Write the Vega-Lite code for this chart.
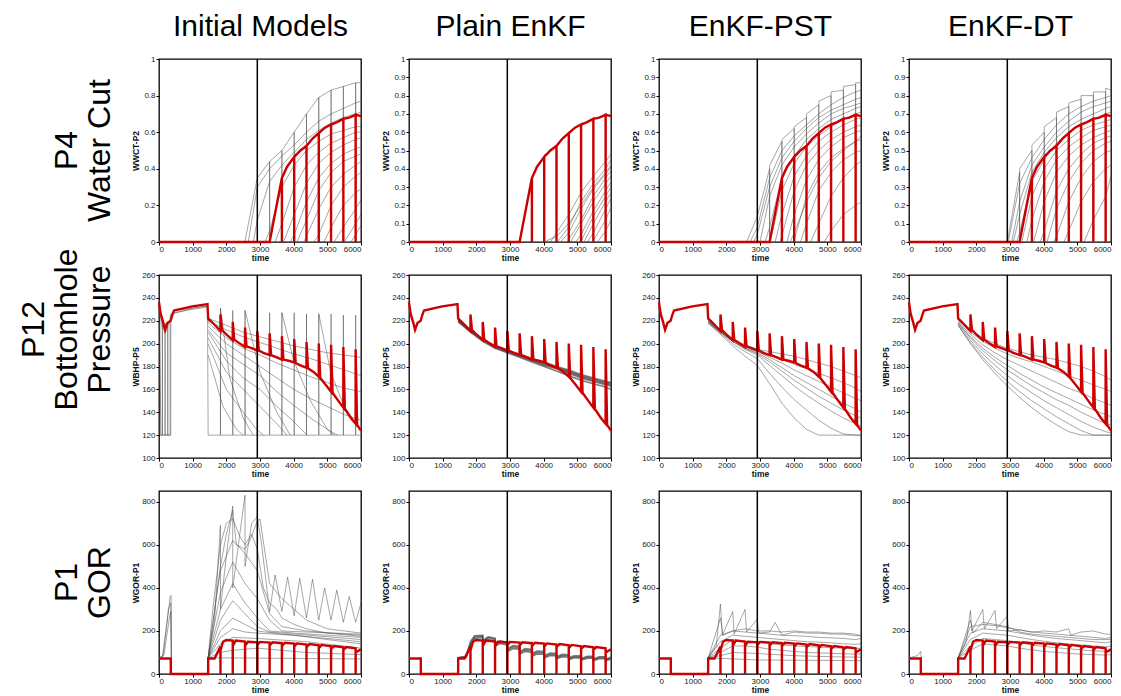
{
"$schema":"https://vega.github.io/schema/vega-lite/v6.json",
"padding":{"left":17,"top":10,"right":0,"bottom":0},
"config":{"font":"Liberation Sans","view":{"stroke":"#000","strokeWidth":1.3},
"axis":{"grid":false,"domain":false,"labelOverlap":false,"labelFontSize":8,"labelColor":"#222","tickColor":"#000","tickSize":3,"labelPadding":1,"titleFontSize":8.5,"titleFontWeight":"bold","titleColor":"#111"},
"axisY":{"minExtent":16,"maxExtent":16,"titlePadding":3},
"axisX":{"titlePadding":0,"labelPadding":0},
"title":{"fontSize":32,"fontWeight":"normal","color":"#000"}},
"datasets":{
"split":[{"t":2920}],
"truth":[
{"r":1,"t":0,"v":0},{"r":1,"t":3285,"v":0},{"r":1,"t":3650,"v":0.35},{"r":1,"t":3651,"v":0},{"r":1,"t":3652,"v":0.35},{"r":1,"t":3800,"v":0.41},{"r":1,"t":4015,"v":0.465},{"r":1,"t":4016,"v":0},{"r":1,"t":4017,"v":0.465},{"r":1,"t":4200,"v":0.5},{"r":1,"t":4380,"v":0.525},{"r":1,"t":4381,"v":0},{"r":1,"t":4382,"v":0.525},{"r":1,"t":4560,"v":0.565},{"r":1,"t":4745,"v":0.595},{"r":1,"t":4746,"v":0},{"r":1,"t":4747,"v":0.595},{"r":1,"t":4930,"v":0.625},{"r":1,"t":5110,"v":0.642},{"r":1,"t":5111,"v":0},{"r":1,"t":5112,"v":0.642},{"r":1,"t":5290,"v":0.655},{"r":1,"t":5475,"v":0.673},{"r":1,"t":5476,"v":0},{"r":1,"t":5477,"v":0.673},{"r":1,"t":5650,"v":0.68},{"r":1,"t":5840,"v":0.695},{"r":1,"t":5841,"v":0},{"r":1,"t":5842,"v":0.695},{"r":1,"t":6000,"v":0.688},
{"r":2,"t":0,"v":236},{"r":2,"t":50,"v":226},{"r":2,"t":120,"v":219},{"r":2,"t":180,"v":212},{"r":2,"t":250,"v":218},{"r":2,"t":345,"v":220},{"r":2,"t":395,"v":225},{"r":2,"t":445,"v":229},{"r":2,"t":990,"v":232.6},{"r":2,"t":1440,"v":234.6},{"r":2,"t":1460,"v":222},{"r":2,"t":1600,"v":218},{"r":2,"t":1825,"v":211},{"r":2,"t":1826,"v":225.5},{"r":2,"t":1870,"v":212},{"r":2,"t":2000,"v":208},{"r":2,"t":2190,"v":203},{"r":2,"t":2191,"v":219},{"r":2,"t":2235,"v":203.5},{"r":2,"t":2400,"v":200},{"r":2,"t":2555,"v":197},{"r":2,"t":2556,"v":214},{"r":2,"t":2600,"v":197.5},{"r":2,"t":2750,"v":196},{"r":2,"t":2920,"v":194},{"r":2,"t":2921,"v":211},{"r":2,"t":2965,"v":194},{"r":2,"t":3100,"v":192},{"r":2,"t":3285,"v":190},{"r":2,"t":3286,"v":209},{"r":2,"t":3330,"v":190},{"r":2,"t":3500,"v":188},{"r":2,"t":3650,"v":186},{"r":2,"t":3651,"v":206.5},{"r":2,"t":3695,"v":186},{"r":2,"t":3850,"v":185},{"r":2,"t":4015,"v":183.5},{"r":2,"t":4016,"v":204},{"r":2,"t":4060,"v":183},{"r":2,"t":4200,"v":181},{"r":2,"t":4380,"v":179},{"r":2,"t":4381,"v":201.5},{"r":2,"t":4425,"v":178.5},{"r":2,"t":4600,"v":175},{"r":2,"t":4745,"v":171},{"r":2,"t":4746,"v":200},{"r":2,"t":4790,"v":170},{"r":2,"t":4950,"v":164},{"r":2,"t":5110,"v":158},{"r":2,"t":5111,"v":199},{"r":2,"t":5155,"v":157},{"r":2,"t":5300,"v":151},{"r":2,"t":5475,"v":144},{"r":2,"t":5476,"v":197},{"r":2,"t":5520,"v":143},{"r":2,"t":5700,"v":135},{"r":2,"t":5840,"v":130},{"r":2,"t":5841,"v":195},{"r":2,"t":5885,"v":129},{"r":2,"t":6000,"v":124},
{"r":3,"t":0,"v":72},{"r":3,"t":350,"v":72},{"r":3,"t":351,"v":0},{"r":3,"t":1460,"v":0},{"r":3,"t":1461,"v":72},{"r":3,"t":1650,"v":72},{"r":3,"t":1825,"v":128},{"r":3,"t":1826,"v":0},{"r":3,"t":1827,"v":110},{"r":3,"t":1900,"v":150},{"r":3,"t":2000,"v":158},{"r":3,"t":2190,"v":155},{"r":3,"t":2191,"v":0},{"r":3,"t":2192,"v":130},{"r":3,"t":2280,"v":155},{"r":3,"t":2555,"v":151},{"r":3,"t":2556,"v":0},{"r":3,"t":2557,"v":130},{"r":3,"t":2640,"v":150},{"r":3,"t":2920,"v":147},{"r":3,"t":2921,"v":0},{"r":3,"t":2922,"v":135},{"r":3,"t":3000,"v":149},{"r":3,"t":3285,"v":146},{"r":3,"t":3286,"v":0},{"r":3,"t":3287,"v":132},{"r":3,"t":3370,"v":147},{"r":3,"t":3650,"v":143},{"r":3,"t":3651,"v":0},{"r":3,"t":3652,"v":130},{"r":3,"t":3740,"v":145},{"r":3,"t":4015,"v":141},{"r":3,"t":4016,"v":0},{"r":3,"t":4017,"v":128},{"r":3,"t":4100,"v":142},{"r":3,"t":4380,"v":137},{"r":3,"t":4381,"v":0},{"r":3,"t":4382,"v":125},{"r":3,"t":4470,"v":139},{"r":3,"t":4745,"v":133},{"r":3,"t":4746,"v":0},{"r":3,"t":4747,"v":120},{"r":3,"t":4830,"v":135},{"r":3,"t":5110,"v":129},{"r":3,"t":5111,"v":0},{"r":3,"t":5112,"v":117},{"r":3,"t":5200,"v":130},{"r":3,"t":5475,"v":124},{"r":3,"t":5476,"v":0},{"r":3,"t":5477,"v":112},{"r":3,"t":5560,"v":125},{"r":3,"t":5840,"v":119},{"r":3,"t":5841,"v":0},{"r":3,"t":5842,"v":100},{"r":3,"t":6000,"v":115}
],
"ens":[
{"p":"1a","s":1,"t":2550,"v":0},{"p":"1a","s":1,"t":2920,"v":0.35},{"p":"1a","s":1,"t":3285,"v":0.44},{"p":"1a","s":1,"t":3286,"v":0},{"p":"1a","s":1,"t":3287,"v":0.44},{"p":"1a","s":1,"t":3650,"v":0.5},{"p":"1a","s":1,"t":3651,"v":0},{"p":"1a","s":1,"t":3652,"v":0.5},{"p":"1a","s":1,"t":4015,"v":0.6},{"p":"1a","s":1,"t":4016,"v":0},{"p":"1a","s":1,"t":4017,"v":0.6},{"p":"1a","s":1,"t":4380,"v":0.7},{"p":"1a","s":1,"t":4381,"v":0},{"p":"1a","s":1,"t":4382,"v":0.7},{"p":"1a","s":1,"t":4745,"v":0.79},{"p":"1a","s":1,"t":4746,"v":0},{"p":"1a","s":1,"t":4747,"v":0.79},{"p":"1a","s":1,"t":5110,"v":0.83},{"p":"1a","s":1,"t":5111,"v":0},{"p":"1a","s":1,"t":5112,"v":0.83},{"p":"1a","s":1,"t":5475,"v":0.85},{"p":"1a","s":1,"t":5476,"v":0},{"p":"1a","s":1,"t":5477,"v":0.85},{"p":"1a","s":1,"t":5840,"v":0.87},{"p":"1a","s":1,"t":5841,"v":0},{"p":"1a","s":1,"t":5842,"v":0.87},{"p":"1a","s":1,"t":6000,"v":0.87},
{"p":"1a","s":2,"t":2650,"v":0},{"p":"1a","s":2,"t":2920,"v":0.3},{"p":"1a","s":2,"t":3285,"v":0.4},{"p":"1a","s":2,"t":3650,"v":0.47},{"p":"1a","s":2,"t":4015,"v":0.53},{"p":"1a","s":2,"t":4380,"v":0.6},{"p":"1a","s":2,"t":4745,"v":0.66},{"p":"1a","s":2,"t":5110,"v":0.7},{"p":"1a","s":2,"t":5475,"v":0.73},{"p":"1a","s":2,"t":5840,"v":0.76},{"p":"1a","s":2,"t":6000,"v":0.77},
{"p":"1a","s":3,"t":2800,"v":0},{"p":"1a","s":3,"t":2920,"v":0.12},{"p":"1a","s":3,"t":3285,"v":0.33},{"p":"1a","s":3,"t":3650,"v":0.42},{"p":"1a","s":3,"t":4015,"v":0.49},{"p":"1a","s":3,"t":4380,"v":0.56},{"p":"1a","s":3,"t":4745,"v":0.61},{"p":"1a","s":3,"t":5110,"v":0.65},{"p":"1a","s":3,"t":5475,"v":0.68},{"p":"1a","s":3,"t":5840,"v":0.7},{"p":"1a","s":3,"t":6000,"v":0.71},
{"p":"1a","s":4,"t":3150,"v":0},{"p":"1a","s":4,"t":3285,"v":0.06},{"p":"1a","s":4,"t":3650,"v":0.3},{"p":"1a","s":4,"t":4015,"v":0.42},{"p":"1a","s":4,"t":4380,"v":0.5},{"p":"1a","s":4,"t":4745,"v":0.55},{"p":"1a","s":4,"t":5110,"v":0.59},{"p":"1a","s":4,"t":5475,"v":0.61},{"p":"1a","s":4,"t":5840,"v":0.63},{"p":"1a","s":4,"t":6000,"v":0.63},
{"p":"1a","s":5,"t":3450,"v":0},{"p":"1a","s":5,"t":3650,"v":0.1},{"p":"1a","s":5,"t":4015,"v":0.3},{"p":"1a","s":5,"t":4380,"v":0.42},{"p":"1a","s":5,"t":4745,"v":0.49},{"p":"1a","s":5,"t":5110,"v":0.54},{"p":"1a","s":5,"t":5475,"v":0.57},{"p":"1a","s":5,"t":5840,"v":0.6},{"p":"1a","s":5,"t":6000,"v":0.6},
{"p":"1a","s":6,"t":3700,"v":0},{"p":"1a","s":6,"t":4015,"v":0.15},{"p":"1a","s":6,"t":4380,"v":0.32},{"p":"1a","s":6,"t":4745,"v":0.43},{"p":"1a","s":6,"t":5110,"v":0.49},{"p":"1a","s":6,"t":5475,"v":0.53},{"p":"1a","s":6,"t":5840,"v":0.56},{"p":"1a","s":6,"t":6000,"v":0.57},
{"p":"1a","s":7,"t":3900,"v":0},{"p":"1a","s":7,"t":4015,"v":0.04},{"p":"1a","s":7,"t":4380,"v":0.22},{"p":"1a","s":7,"t":4745,"v":0.35},{"p":"1a","s":7,"t":5110,"v":0.43},{"p":"1a","s":7,"t":5475,"v":0.48},{"p":"1a","s":7,"t":5840,"v":0.51},{"p":"1a","s":7,"t":6000,"v":0.52},
{"p":"1a","s":8,"t":4100,"v":0},{"p":"1a","s":8,"t":4380,"v":0.12},{"p":"1a","s":8,"t":4745,"v":0.28},{"p":"1a","s":8,"t":5110,"v":0.38},{"p":"1a","s":8,"t":5475,"v":0.44},{"p":"1a","s":8,"t":5840,"v":0.47},{"p":"1a","s":8,"t":6000,"v":0.48},
{"p":"1a","s":9,"t":4300,"v":0},{"p":"1a","s":9,"t":4745,"v":0.18},{"p":"1a","s":9,"t":5110,"v":0.3},{"p":"1a","s":9,"t":5475,"v":0.37},{"p":"1a","s":9,"t":5840,"v":0.42},{"p":"1a","s":9,"t":6000,"v":0.44},
{"p":"1a","s":10,"t":4600,"v":0},{"p":"1a","s":10,"t":4745,"v":0.04},{"p":"1a","s":10,"t":5110,"v":0.2},{"p":"1a","s":10,"t":5475,"v":0.3},{"p":"1a","s":10,"t":5840,"v":0.36},{"p":"1a","s":10,"t":6000,"v":0.38},
{"p":"1a","s":11,"t":4900,"v":0},{"p":"1a","s":11,"t":5110,"v":0.08},{"p":"1a","s":11,"t":5475,"v":0.2},{"p":"1a","s":11,"t":5840,"v":0.27},{"p":"1a","s":11,"t":6000,"v":0.29},
{"p":"1a","s":12,"t":5200,"v":0},{"p":"1a","s":12,"t":5475,"v":0.08},{"p":"1a","s":12,"t":5840,"v":0.18},{"p":"1a","s":12,"t":6000,"v":0.23},
{"p":"1a","s":13,"t":5500,"v":0},{"p":"1a","s":13,"t":5840,"v":0.1},{"p":"1a","s":13,"t":6000,"v":0.15},
{"p":"1a","s":14,"t":5700,"v":0},{"p":"1a","s":14,"t":5840,"v":0.04},{"p":"1a","s":14,"t":6000,"v":0.09},
{"p":"1b","s":1,"t":4200,"v":0},{"p":"1b","s":1,"t":4745,"v":0.15},{"p":"1b","s":1,"t":5110,"v":0.27},{"p":"1b","s":1,"t":5475,"v":0.36},{"p":"1b","s":1,"t":5840,"v":0.44},{"p":"1b","s":1,"t":6000,"v":0.48},
{"p":"1b","s":2,"t":4400,"v":0},{"p":"1b","s":2,"t":4745,"v":0.08},{"p":"1b","s":2,"t":5110,"v":0.22},{"p":"1b","s":2,"t":5475,"v":0.32},{"p":"1b","s":2,"t":5840,"v":0.4},{"p":"1b","s":2,"t":6000,"v":0.45},
{"p":"1b","s":3,"t":4500,"v":0},{"p":"1b","s":3,"t":4745,"v":0.05},{"p":"1b","s":3,"t":5110,"v":0.18},{"p":"1b","s":3,"t":5475,"v":0.29},{"p":"1b","s":3,"t":5840,"v":0.37},{"p":"1b","s":3,"t":6000,"v":0.41},
{"p":"1b","s":4,"t":4700,"v":0},{"p":"1b","s":4,"t":5110,"v":0.12},{"p":"1b","s":4,"t":5475,"v":0.25},{"p":"1b","s":4,"t":5840,"v":0.35},{"p":"1b","s":4,"t":6000,"v":0.39},
{"p":"1b","s":5,"t":4800,"v":0},{"p":"1b","s":5,"t":5110,"v":0.1},{"p":"1b","s":5,"t":5475,"v":0.22},{"p":"1b","s":5,"t":5840,"v":0.32},{"p":"1b","s":5,"t":6000,"v":0.36},
{"p":"1b","s":6,"t":4950,"v":0},{"p":"1b","s":6,"t":5110,"v":0.04},{"p":"1b","s":6,"t":5475,"v":0.17},{"p":"1b","s":6,"t":5840,"v":0.28},{"p":"1b","s":6,"t":6000,"v":0.33},
{"p":"1b","s":7,"t":5100,"v":0},{"p":"1b","s":7,"t":5475,"v":0.14},{"p":"1b","s":7,"t":5840,"v":0.25},{"p":"1b","s":7,"t":6000,"v":0.3},
{"p":"1b","s":8,"t":5200,"v":0},{"p":"1b","s":8,"t":5475,"v":0.1},{"p":"1b","s":8,"t":5840,"v":0.22},{"p":"1b","s":8,"t":6000,"v":0.27},
{"p":"1b","s":9,"t":5300,"v":0},{"p":"1b","s":9,"t":5475,"v":0.05},{"p":"1b","s":9,"t":5840,"v":0.18},{"p":"1b","s":9,"t":6000,"v":0.24},
{"p":"1b","s":10,"t":5450,"v":0},{"p":"1b","s":10,"t":5840,"v":0.12},{"p":"1b","s":10,"t":6000,"v":0.19},
{"p":"1b","s":11,"t":5600,"v":0},{"p":"1b","s":11,"t":5840,"v":0.06},{"p":"1b","s":11,"t":6000,"v":0.12},
{"p":"1b","s":12,"t":4000,"v":0},{"p":"1b","s":12,"t":4380,"v":0.03},{"p":"1b","s":12,"t":4745,"v":0.1},{"p":"1b","s":12,"t":5110,"v":0.2},{"p":"1b","s":12,"t":5475,"v":0.3},{"p":"1b","s":12,"t":5840,"v":0.38},{"p":"1b","s":12,"t":6000,"v":0.42},
{"p":"1c","s":1,"t":2600,"v":0},{"p":"1c","s":1,"t":2920,"v":0.14},{"p":"1c","s":1,"t":3285,"v":0.4},{"p":"1c","s":1,"t":3286,"v":0},{"p":"1c","s":1,"t":3287,"v":0.42},{"p":"1c","s":1,"t":3650,"v":0.55},{"p":"1c","s":1,"t":3651,"v":0},{"p":"1c","s":1,"t":3652,"v":0.56},{"p":"1c","s":1,"t":4015,"v":0.62},{"p":"1c","s":1,"t":4016,"v":0},{"p":"1c","s":1,"t":4017,"v":0.63},{"p":"1c","s":1,"t":4380,"v":0.68},{"p":"1c","s":1,"t":4381,"v":0},{"p":"1c","s":1,"t":4382,"v":0.7},{"p":"1c","s":1,"t":4745,"v":0.75},{"p":"1c","s":1,"t":4746,"v":0},{"p":"1c","s":1,"t":4747,"v":0.77},{"p":"1c","s":1,"t":5110,"v":0.8},{"p":"1c","s":1,"t":5111,"v":0},{"p":"1c","s":1,"t":5112,"v":0.82},{"p":"1c","s":1,"t":5475,"v":0.83},{"p":"1c","s":1,"t":5476,"v":0},{"p":"1c","s":1,"t":5477,"v":0.85},{"p":"1c","s":1,"t":5840,"v":0.86},{"p":"1c","s":1,"t":5841,"v":0},{"p":"1c","s":1,"t":5842,"v":0.87},{"p":"1c","s":1,"t":6000,"v":0.87},
{"p":"1c","s":2,"t":2700,"v":0},{"p":"1c","s":2,"t":2920,"v":0.08},{"p":"1c","s":2,"t":3285,"v":0.35},{"p":"1c","s":2,"t":3650,"v":0.5},{"p":"1c","s":2,"t":4015,"v":0.58},{"p":"1c","s":2,"t":4380,"v":0.64},{"p":"1c","s":2,"t":4745,"v":0.7},{"p":"1c","s":2,"t":5110,"v":0.75},{"p":"1c","s":2,"t":5475,"v":0.79},{"p":"1c","s":2,"t":5840,"v":0.82},{"p":"1c","s":2,"t":6000,"v":0.83},
{"p":"1c","s":3,"t":2800,"v":0},{"p":"1c","s":3,"t":2920,"v":0.04},{"p":"1c","s":3,"t":3285,"v":0.3},{"p":"1c","s":3,"t":3650,"v":0.46},{"p":"1c","s":3,"t":4015,"v":0.55},{"p":"1c","s":3,"t":4380,"v":0.62},{"p":"1c","s":3,"t":4745,"v":0.68},{"p":"1c","s":3,"t":5110,"v":0.72},{"p":"1c","s":3,"t":5475,"v":0.75},{"p":"1c","s":3,"t":5840,"v":0.78},{"p":"1c","s":3,"t":6000,"v":0.79},
{"p":"1c","s":4,"t":3000,"v":0},{"p":"1c","s":4,"t":3285,"v":0.25},{"p":"1c","s":4,"t":3650,"v":0.42},{"p":"1c","s":4,"t":4015,"v":0.52},{"p":"1c","s":4,"t":4380,"v":0.59},{"p":"1c","s":4,"t":4745,"v":0.65},{"p":"1c","s":4,"t":5110,"v":0.7},{"p":"1c","s":4,"t":5475,"v":0.73},{"p":"1c","s":4,"t":5840,"v":0.75},{"p":"1c","s":4,"t":6000,"v":0.76},
{"p":"1c","s":5,"t":3150,"v":0},{"p":"1c","s":5,"t":3285,"v":0.08},{"p":"1c","s":5,"t":3650,"v":0.35},{"p":"1c","s":5,"t":4015,"v":0.47},{"p":"1c","s":5,"t":4380,"v":0.56},{"p":"1c","s":5,"t":4745,"v":0.62},{"p":"1c","s":5,"t":5110,"v":0.67},{"p":"1c","s":5,"t":5475,"v":0.7},{"p":"1c","s":5,"t":5840,"v":0.73},{"p":"1c","s":5,"t":6000,"v":0.74},
{"p":"1c","s":6,"t":3300,"v":0},{"p":"1c","s":6,"t":3650,"v":0.28},{"p":"1c","s":6,"t":4015,"v":0.43},{"p":"1c","s":6,"t":4380,"v":0.52},{"p":"1c","s":6,"t":4745,"v":0.58},{"p":"1c","s":6,"t":5110,"v":0.63},{"p":"1c","s":6,"t":5475,"v":0.67},{"p":"1c","s":6,"t":5840,"v":0.7},{"p":"1c","s":6,"t":6000,"v":0.71},
{"p":"1c","s":7,"t":3450,"v":0},{"p":"1c","s":7,"t":3650,"v":0.15},{"p":"1c","s":7,"t":4015,"v":0.36},{"p":"1c","s":7,"t":4380,"v":0.47},{"p":"1c","s":7,"t":4745,"v":0.55},{"p":"1c","s":7,"t":5110,"v":0.6},{"p":"1c","s":7,"t":5475,"v":0.64},{"p":"1c","s":7,"t":5840,"v":0.67},{"p":"1c","s":7,"t":6000,"v":0.68},
{"p":"1c","s":8,"t":3600,"v":0},{"p":"1c","s":8,"t":4015,"v":0.28},{"p":"1c","s":8,"t":4380,"v":0.42},{"p":"1c","s":8,"t":4745,"v":0.5},{"p":"1c","s":8,"t":5110,"v":0.56},{"p":"1c","s":8,"t":5475,"v":0.6},{"p":"1c","s":8,"t":5840,"v":0.63},{"p":"1c","s":8,"t":6000,"v":0.64},
{"p":"1c","s":9,"t":3800,"v":0},{"p":"1c","s":9,"t":4015,"v":0.15},{"p":"1c","s":9,"t":4380,"v":0.34},{"p":"1c","s":9,"t":4745,"v":0.45},{"p":"1c","s":9,"t":5110,"v":0.52},{"p":"1c","s":9,"t":5475,"v":0.57},{"p":"1c","s":9,"t":5840,"v":0.6},{"p":"1c","s":9,"t":6000,"v":0.61},
{"p":"1c","s":10,"t":4000,"v":0},{"p":"1c","s":10,"t":4380,"v":0.25},{"p":"1c","s":10,"t":4745,"v":0.38},{"p":"1c","s":10,"t":5110,"v":0.46},{"p":"1c","s":10,"t":5475,"v":0.51},{"p":"1c","s":10,"t":5840,"v":0.55},{"p":"1c","s":10,"t":6000,"v":0.56},
{"p":"1c","s":11,"t":4200,"v":0},{"p":"1c","s":11,"t":4380,"v":0.1},{"p":"1c","s":11,"t":4745,"v":0.28},{"p":"1c","s":11,"t":5110,"v":0.38},{"p":"1c","s":11,"t":5475,"v":0.45},{"p":"1c","s":11,"t":5840,"v":0.49},{"p":"1c","s":11,"t":6000,"v":0.5},
{"p":"1c","s":12,"t":4500,"v":0},{"p":"1c","s":12,"t":4745,"v":0.1},{"p":"1c","s":12,"t":5110,"v":0.25},{"p":"1c","s":12,"t":5475,"v":0.35},{"p":"1c","s":12,"t":5840,"v":0.42},{"p":"1c","s":12,"t":6000,"v":0.44},
{"p":"1c","s":13,"t":4900,"v":0},{"p":"1c","s":13,"t":5110,"v":0.06},{"p":"1c","s":13,"t":5475,"v":0.15},{"p":"1c","s":13,"t":5840,"v":0.2},{"p":"1c","s":13,"t":6000,"v":0.22},
{"p":"1c","s":14,"t":3900,"v":0},{"p":"1c","s":14,"t":4015,"v":0.05},{"p":"1c","s":14,"t":4380,"v":0.22},{"p":"1c","s":14,"t":4745,"v":0.35},{"p":"1c","s":14,"t":5110,"v":0.44},{"p":"1c","s":14,"t":5475,"v":0.5},{"p":"1c","s":14,"t":5840,"v":0.55},{"p":"1c","s":14,"t":6000,"v":0.58},
{"p":"1d","s":1,"t":2920,"v":0},{"p":"1d","s":1,"t":3285,"v":0.38},{"p":"1d","s":1,"t":3286,"v":0},{"p":"1d","s":1,"t":3287,"v":0.4},{"p":"1d","s":1,"t":3650,"v":0.5},{"p":"1d","s":1,"t":3651,"v":0},{"p":"1d","s":1,"t":3652,"v":0.53},{"p":"1d","s":1,"t":4015,"v":0.6},{"p":"1d","s":1,"t":4016,"v":0},{"p":"1d","s":1,"t":4017,"v":0.63},{"p":"1d","s":1,"t":4380,"v":0.68},{"p":"1d","s":1,"t":4381,"v":0},{"p":"1d","s":1,"t":4382,"v":0.71},{"p":"1d","s":1,"t":4745,"v":0.74},{"p":"1d","s":1,"t":4746,"v":0},{"p":"1d","s":1,"t":4747,"v":0.76},{"p":"1d","s":1,"t":5110,"v":0.78},{"p":"1d","s":1,"t":5111,"v":0},{"p":"1d","s":1,"t":5112,"v":0.8},{"p":"1d","s":1,"t":5475,"v":0.8},{"p":"1d","s":1,"t":5476,"v":0},{"p":"1d","s":1,"t":5477,"v":0.82},{"p":"1d","s":1,"t":5840,"v":0.82},{"p":"1d","s":1,"t":5841,"v":0},{"p":"1d","s":1,"t":5842,"v":0.84},{"p":"1d","s":1,"t":6000,"v":0.83},
{"p":"1d","s":2,"t":2950,"v":0},{"p":"1d","s":2,"t":3285,"v":0.32},{"p":"1d","s":2,"t":3650,"v":0.46},{"p":"1d","s":2,"t":4015,"v":0.56},{"p":"1d","s":2,"t":4380,"v":0.64},{"p":"1d","s":2,"t":4745,"v":0.7},{"p":"1d","s":2,"t":5110,"v":0.74},{"p":"1d","s":2,"t":5475,"v":0.77},{"p":"1d","s":2,"t":5840,"v":0.79},{"p":"1d","s":2,"t":6000,"v":0.8},
{"p":"1d","s":3,"t":3050,"v":0},{"p":"1d","s":3,"t":3285,"v":0.22},{"p":"1d","s":3,"t":3650,"v":0.42},{"p":"1d","s":3,"t":4015,"v":0.52},{"p":"1d","s":3,"t":4380,"v":0.6},{"p":"1d","s":3,"t":4745,"v":0.66},{"p":"1d","s":3,"t":5110,"v":0.71},{"p":"1d","s":3,"t":5475,"v":0.74},{"p":"1d","s":3,"t":5840,"v":0.76},{"p":"1d","s":3,"t":6000,"v":0.77},
{"p":"1d","s":4,"t":3100,"v":0},{"p":"1d","s":4,"t":3285,"v":0.15},{"p":"1d","s":4,"t":3650,"v":0.38},{"p":"1d","s":4,"t":4015,"v":0.49},{"p":"1d","s":4,"t":4380,"v":0.57},{"p":"1d","s":4,"t":4745,"v":0.63},{"p":"1d","s":4,"t":5110,"v":0.67},{"p":"1d","s":4,"t":5475,"v":0.7},{"p":"1d","s":4,"t":5840,"v":0.73},{"p":"1d","s":4,"t":6000,"v":0.74},
{"p":"1d","s":5,"t":3200,"v":0},{"p":"1d","s":5,"t":3285,"v":0.05},{"p":"1d","s":5,"t":3650,"v":0.33},{"p":"1d","s":5,"t":4015,"v":0.45},{"p":"1d","s":5,"t":4380,"v":0.54},{"p":"1d","s":5,"t":4745,"v":0.6},{"p":"1d","s":5,"t":5110,"v":0.64},{"p":"1d","s":5,"t":5475,"v":0.67},{"p":"1d","s":5,"t":5840,"v":0.7},{"p":"1d","s":5,"t":6000,"v":0.71},
{"p":"1d","s":6,"t":3350,"v":0},{"p":"1d","s":6,"t":3650,"v":0.25},{"p":"1d","s":6,"t":4015,"v":0.4},{"p":"1d","s":6,"t":4380,"v":0.5},{"p":"1d","s":6,"t":4745,"v":0.56},{"p":"1d","s":6,"t":5110,"v":0.61},{"p":"1d","s":6,"t":5475,"v":0.64},{"p":"1d","s":6,"t":5840,"v":0.66},{"p":"1d","s":6,"t":6000,"v":0.67},
{"p":"1d","s":7,"t":3500,"v":0},{"p":"1d","s":7,"t":3650,"v":0.12},{"p":"1d","s":7,"t":4015,"v":0.33},{"p":"1d","s":7,"t":4380,"v":0.45},{"p":"1d","s":7,"t":4745,"v":0.52},{"p":"1d","s":7,"t":5110,"v":0.57},{"p":"1d","s":7,"t":5475,"v":0.61},{"p":"1d","s":7,"t":5840,"v":0.63},{"p":"1d","s":7,"t":6000,"v":0.64},
{"p":"1d","s":8,"t":3700,"v":0},{"p":"1d","s":8,"t":4015,"v":0.22},{"p":"1d","s":8,"t":4380,"v":0.38},{"p":"1d","s":8,"t":4745,"v":0.47},{"p":"1d","s":8,"t":5110,"v":0.53},{"p":"1d","s":8,"t":5475,"v":0.57},{"p":"1d","s":8,"t":5840,"v":0.6},{"p":"1d","s":8,"t":6000,"v":0.61},
{"p":"1d","s":9,"t":3900,"v":0},{"p":"1d","s":9,"t":4015,"v":0.06},{"p":"1d","s":9,"t":4380,"v":0.28},{"p":"1d","s":9,"t":4745,"v":0.4},{"p":"1d","s":9,"t":5110,"v":0.48},{"p":"1d","s":9,"t":5475,"v":0.54},{"p":"1d","s":9,"t":5840,"v":0.57},{"p":"1d","s":9,"t":6000,"v":0.58},
{"p":"1d","s":10,"t":4100,"v":0},{"p":"1d","s":10,"t":4380,"v":0.18},{"p":"1d","s":10,"t":4745,"v":0.33},{"p":"1d","s":10,"t":5110,"v":0.43},{"p":"1d","s":10,"t":5475,"v":0.5},{"p":"1d","s":10,"t":5840,"v":0.54},{"p":"1d","s":10,"t":6000,"v":0.55},
{"p":"1d","s":11,"t":4300,"v":0},{"p":"1d","s":11,"t":4380,"v":0.03},{"p":"1d","s":11,"t":4745,"v":0.22},{"p":"1d","s":11,"t":5110,"v":0.35},{"p":"1d","s":11,"t":5475,"v":0.44},{"p":"1d","s":11,"t":5840,"v":0.49},{"p":"1d","s":11,"t":6000,"v":0.5},
{"p":"1d","s":12,"t":4600,"v":0},{"p":"1d","s":12,"t":4745,"v":0.06},{"p":"1d","s":12,"t":5110,"v":0.22},{"p":"1d","s":12,"t":5475,"v":0.33},{"p":"1d","s":12,"t":5840,"v":0.4},{"p":"1d","s":12,"t":6000,"v":0.42},
{"p":"1d","s":13,"t":5200,"v":0},{"p":"1d","s":13,"t":5475,"v":0.12},{"p":"1d","s":13,"t":5840,"v":0.25},{"p":"1d","s":13,"t":6000,"v":0.36},
{"p":"2a","s":1,"t":0,"v":234},{"p":"2a","s":1,"t":30,"v":226},{"p":"2a","s":1,"t":31,"v":120},{"p":"2a","s":1,"t":350,"v":120},{"p":"2a","s":1,"t":351,"v":226},{"p":"2a","s":1,"t":450,"v":229},{"p":"2a","s":1,"t":1000,"v":231},{"p":"2a","s":1,"t":1440,"v":233},{"p":"2a","s":1,"t":1460,"v":222},{"p":"2a","s":1,"t":2000,"v":216},{"p":"2a","s":1,"t":2500,"v":210},{"p":"2a","s":1,"t":3000,"v":206},{"p":"2a","s":1,"t":3500,"v":202},{"p":"2a","s":1,"t":4000,"v":198},{"p":"2a","s":1,"t":4500,"v":195},{"p":"2a","s":1,"t":5000,"v":192},{"p":"2a","s":1,"t":5500,"v":190},{"p":"2a","s":1,"t":6000,"v":188},
{"p":"2a","s":2,"t":0,"v":232},{"p":"2a","s":2,"t":60,"v":120},{"p":"2a","s":2,"t":100,"v":120},{"p":"2a","s":2,"t":101,"v":222},{"p":"2a","s":2,"t":102,"v":120},{"p":"2a","s":2,"t":180,"v":120},{"p":"2a","s":2,"t":181,"v":218},{"p":"2a","s":2,"t":182,"v":120},{"p":"2a","s":2,"t":260,"v":120},{"p":"2a","s":2,"t":261,"v":216},{"p":"2a","s":2,"t":262,"v":120},{"p":"2a","s":2,"t":330,"v":120},{"p":"2a","s":2,"t":331,"v":224},{"p":"2a","s":2,"t":450,"v":227},{"p":"2a","s":2,"t":1000,"v":230},{"p":"2a","s":2,"t":1440,"v":232},{"p":"2a","s":2,"t":1460,"v":220},{"p":"2a","s":2,"t":2000,"v":212},{"p":"2a","s":2,"t":2500,"v":206},{"p":"2a","s":2,"t":3000,"v":201},{"p":"2a","s":2,"t":3500,"v":196},{"p":"2a","s":2,"t":4000,"v":191},{"p":"2a","s":2,"t":4500,"v":187},{"p":"2a","s":2,"t":5000,"v":182},{"p":"2a","s":2,"t":5500,"v":177},{"p":"2a","s":2,"t":6000,"v":172},
{"p":"2a","s":3,"t":0,"v":236},{"p":"2a","s":3,"t":100,"v":214},{"p":"2a","s":3,"t":200,"v":210},{"p":"2a","s":3,"t":300,"v":218},{"p":"2a","s":3,"t":400,"v":226},{"p":"2a","s":3,"t":1000,"v":231},{"p":"2a","s":3,"t":1440,"v":233},{"p":"2a","s":3,"t":1460,"v":218},{"p":"2a","s":3,"t":2000,"v":205},{"p":"2a","s":3,"t":2500,"v":196},{"p":"2a","s":3,"t":3000,"v":190},{"p":"2a","s":3,"t":3500,"v":183},{"p":"2a","s":3,"t":4000,"v":177},{"p":"2a","s":3,"t":4500,"v":171},{"p":"2a","s":3,"t":5000,"v":166},{"p":"2a","s":3,"t":5500,"v":161},{"p":"2a","s":3,"t":6000,"v":158},
{"p":"2a","s":4,"t":1460,"v":215},{"p":"2a","s":4,"t":2000,"v":200},{"p":"2a","s":4,"t":2500,"v":190},{"p":"2a","s":4,"t":3000,"v":180},{"p":"2a","s":4,"t":3500,"v":170},{"p":"2a","s":4,"t":4000,"v":160},{"p":"2a","s":4,"t":4500,"v":152},{"p":"2a","s":4,"t":5000,"v":145},{"p":"2a","s":4,"t":5500,"v":138},{"p":"2a","s":4,"t":6000,"v":133},
{"p":"2a","s":5,"t":1460,"v":212},{"p":"2a","s":5,"t":2000,"v":192},{"p":"2a","s":5,"t":2500,"v":182},{"p":"2a","s":5,"t":3000,"v":172},{"p":"2a","s":5,"t":3500,"v":158},{"p":"2a","s":5,"t":4000,"v":146},{"p":"2a","s":5,"t":4500,"v":135},{"p":"2a","s":5,"t":5000,"v":125},{"p":"2a","s":5,"t":5300,"v":120},
{"p":"2a","s":6,"t":1460,"v":210},{"p":"2a","s":6,"t":2000,"v":185},{"p":"2a","s":6,"t":2500,"v":170},{"p":"2a","s":6,"t":3000,"v":160},{"p":"2a","s":6,"t":3500,"v":145},{"p":"2a","s":6,"t":4000,"v":132},{"p":"2a","s":6,"t":4400,"v":120},
{"p":"2a","s":7,"t":1460,"v":205},{"p":"2a","s":7,"t":2000,"v":175},{"p":"2a","s":7,"t":2500,"v":160},{"p":"2a","s":7,"t":3000,"v":145},{"p":"2a","s":7,"t":3500,"v":130},{"p":"2a","s":7,"t":3800,"v":120},
{"p":"2a","s":8,"t":1460,"v":200},{"p":"2a","s":8,"t":2000,"v":160},{"p":"2a","s":8,"t":2500,"v":140},{"p":"2a","s":8,"t":2900,"v":125},{"p":"2a","s":8,"t":3100,"v":120},
{"p":"2a","s":9,"t":1460,"v":190},{"p":"2a","s":9,"t":1900,"v":145},{"p":"2a","s":9,"t":2300,"v":125},{"p":"2a","s":9,"t":2500,"v":120},
{"p":"2a","s":10,"t":1440,"v":233},{"p":"2a","s":10,"t":1460,"v":120},{"p":"2a","s":10,"t":1825,"v":120},{"p":"2a","s":10,"t":1826,"v":231},{"p":"2a","s":10,"t":1827,"v":120},{"p":"2a","s":10,"t":2190,"v":120},{"p":"2a","s":10,"t":2191,"v":229},{"p":"2a","s":10,"t":2192,"v":120},{"p":"2a","s":10,"t":2555,"v":120},{"p":"2a","s":10,"t":2556,"v":229},{"p":"2a","s":10,"t":2557,"v":120},{"p":"2a","s":10,"t":2920,"v":120},{"p":"2a","s":10,"t":2921,"v":228},{"p":"2a","s":10,"t":2922,"v":120},{"p":"2a","s":10,"t":3285,"v":120},{"p":"2a","s":10,"t":3286,"v":227},{"p":"2a","s":10,"t":3287,"v":120},{"p":"2a","s":10,"t":3650,"v":120},{"p":"2a","s":10,"t":3651,"v":227},{"p":"2a","s":10,"t":3652,"v":120},{"p":"2a","s":10,"t":4015,"v":120},{"p":"2a","s":10,"t":4016,"v":227},{"p":"2a","s":10,"t":4017,"v":120},{"p":"2a","s":10,"t":4380,"v":120},{"p":"2a","s":10,"t":4381,"v":226},{"p":"2a","s":10,"t":4382,"v":120},{"p":"2a","s":10,"t":4745,"v":120},{"p":"2a","s":10,"t":4746,"v":226},{"p":"2a","s":10,"t":4747,"v":120},{"p":"2a","s":10,"t":5110,"v":120},{"p":"2a","s":10,"t":5111,"v":226},{"p":"2a","s":10,"t":5112,"v":120},{"p":"2a","s":10,"t":5475,"v":120},{"p":"2a","s":10,"t":5476,"v":225},{"p":"2a","s":10,"t":5477,"v":120},{"p":"2a","s":10,"t":5840,"v":120},{"p":"2a","s":10,"t":5841,"v":225},{"p":"2a","s":10,"t":5842,"v":120},{"p":"2a","s":10,"t":6000,"v":120},
{"p":"2a","s":11,"t":1826,"v":231},{"p":"2a","s":11,"t":2100,"v":170},{"p":"2a","s":11,"t":2500,"v":135},{"p":"2a","s":11,"t":2800,"v":120},
{"p":"2a","s":12,"t":2556,"v":229},{"p":"2a","s":12,"t":3000,"v":175},{"p":"2a","s":12,"t":3500,"v":140},{"p":"2a","s":12,"t":3900,"v":120},
{"p":"2a","s":13,"t":3651,"v":227},{"p":"2a","s":13,"t":4000,"v":185},{"p":"2a","s":13,"t":4500,"v":150},{"p":"2a","s":13,"t":5000,"v":125},{"p":"2a","s":13,"t":5200,"v":120},
{"p":"2a","s":14,"t":4746,"v":226},{"p":"2a","s":14,"t":5100,"v":175},{"p":"2a","s":14,"t":5500,"v":145},{"p":"2a","s":14,"t":6000,"v":125},
{"p":"2b","s":1,"t":1460,"v":221},{"p":"2b","s":1,"t":1825,"v":212},{"p":"2b","s":1,"t":2190,"v":204},{"p":"2b","s":1,"t":2555,"v":198},{"p":"2b","s":1,"t":2920,"v":194},{"p":"2b","s":1,"t":3285,"v":191},{"p":"2b","s":1,"t":3650,"v":187},{"p":"2b","s":1,"t":4015,"v":184},{"p":"2b","s":1,"t":4380,"v":180},{"p":"2b","s":1,"t":4745,"v":177},{"p":"2b","s":1,"t":5110,"v":173},{"p":"2b","s":1,"t":5475,"v":170},{"p":"2b","s":1,"t":5840,"v":167},{"p":"2b","s":1,"t":6000,"v":166},
{"p":"2b","s":2,"t":1460,"v":220},{"p":"2b","s":2,"t":1825,"v":211},{"p":"2b","s":2,"t":2190,"v":203},{"p":"2b","s":2,"t":2555,"v":197},{"p":"2b","s":2,"t":2920,"v":193},{"p":"2b","s":2,"t":3285,"v":189},{"p":"2b","s":2,"t":3650,"v":185},{"p":"2b","s":2,"t":4015,"v":181},{"p":"2b","s":2,"t":4380,"v":178},{"p":"2b","s":2,"t":4745,"v":174},{"p":"2b","s":2,"t":5110,"v":170},{"p":"2b","s":2,"t":5475,"v":167},{"p":"2b","s":2,"t":5840,"v":164},{"p":"2b","s":2,"t":6000,"v":163},
{"p":"2b","s":3,"t":1460,"v":219},{"p":"2b","s":3,"t":1825,"v":210},{"p":"2b","s":3,"t":2190,"v":202},{"p":"2b","s":3,"t":2555,"v":196},{"p":"2b","s":3,"t":2920,"v":192},{"p":"2b","s":3,"t":3285,"v":188},{"p":"2b","s":3,"t":3650,"v":184},{"p":"2b","s":3,"t":4015,"v":180},{"p":"2b","s":3,"t":4380,"v":176},{"p":"2b","s":3,"t":4745,"v":172},{"p":"2b","s":3,"t":5110,"v":168},{"p":"2b","s":3,"t":5475,"v":165},{"p":"2b","s":3,"t":5840,"v":162},{"p":"2b","s":3,"t":6000,"v":160},
{"p":"2b","s":4,"t":1460,"v":220},{"p":"2b","s":4,"t":1825,"v":211},{"p":"2b","s":4,"t":2190,"v":203},{"p":"2b","s":4,"t":2555,"v":197},{"p":"2b","s":4,"t":2920,"v":193},{"p":"2b","s":4,"t":2921,"v":210},{"p":"2b","s":4,"t":2960,"v":193},{"p":"2b","s":4,"t":3285,"v":190},{"p":"2b","s":4,"t":3650,"v":186},{"p":"2b","s":4,"t":4015,"v":182},{"p":"2b","s":4,"t":4380,"v":179},{"p":"2b","s":4,"t":4745,"v":175},{"p":"2b","s":4,"t":5110,"v":171},{"p":"2b","s":4,"t":5475,"v":168},{"p":"2b","s":4,"t":5840,"v":165},{"p":"2b","s":4,"t":6000,"v":164},
{"p":"2b","s":5,"t":1460,"v":221},{"p":"2b","s":5,"t":1825,"v":212},{"p":"2b","s":5,"t":2190,"v":204},{"p":"2b","s":5,"t":2555,"v":198},{"p":"2b","s":5,"t":2920,"v":194},{"p":"2b","s":5,"t":3285,"v":190},{"p":"2b","s":5,"t":3650,"v":186},{"p":"2b","s":5,"t":4015,"v":183},{"p":"2b","s":5,"t":4380,"v":179},{"p":"2b","s":5,"t":4745,"v":176},{"p":"2b","s":5,"t":5110,"v":172},{"p":"2b","s":5,"t":5475,"v":169},{"p":"2b","s":5,"t":5840,"v":166},{"p":"2b","s":5,"t":6000,"v":165},
{"p":"2c","s":1,"t":1460,"v":221},{"p":"2c","s":1,"t":1825,"v":212},{"p":"2c","s":1,"t":2190,"v":204},{"p":"2c","s":1,"t":2555,"v":199},{"p":"2c","s":1,"t":2920,"v":195},{"p":"2c","s":1,"t":3285,"v":193},{"p":"2c","s":1,"t":3650,"v":191},{"p":"2c","s":1,"t":4015,"v":189},{"p":"2c","s":1,"t":4380,"v":186},{"p":"2c","s":1,"t":4745,"v":183},{"p":"2c","s":1,"t":5110,"v":180},{"p":"2c","s":1,"t":5475,"v":176},{"p":"2c","s":1,"t":5840,"v":172},{"p":"2c","s":1,"t":6000,"v":170},
{"p":"2c","s":2,"t":1460,"v":220},{"p":"2c","s":2,"t":1825,"v":211},{"p":"2c","s":2,"t":2190,"v":203},{"p":"2c","s":2,"t":2555,"v":198},{"p":"2c","s":2,"t":2920,"v":194},{"p":"2c","s":2,"t":3285,"v":190},{"p":"2c","s":2,"t":3650,"v":186},{"p":"2c","s":2,"t":4015,"v":182},{"p":"2c","s":2,"t":4380,"v":178},{"p":"2c","s":2,"t":4745,"v":174},{"p":"2c","s":2,"t":5110,"v":170},{"p":"2c","s":2,"t":5475,"v":166},{"p":"2c","s":2,"t":5840,"v":161},{"p":"2c","s":2,"t":6000,"v":158},
{"p":"2c","s":3,"t":1460,"v":220},{"p":"2c","s":3,"t":1825,"v":211},{"p":"2c","s":3,"t":2190,"v":203},{"p":"2c","s":3,"t":2555,"v":197},{"p":"2c","s":3,"t":2920,"v":193},{"p":"2c","s":3,"t":3285,"v":188},{"p":"2c","s":3,"t":3650,"v":183},{"p":"2c","s":3,"t":4015,"v":177},{"p":"2c","s":3,"t":4380,"v":172},{"p":"2c","s":3,"t":4745,"v":167},{"p":"2c","s":3,"t":5110,"v":162},{"p":"2c","s":3,"t":5475,"v":157},{"p":"2c","s":3,"t":5840,"v":152},{"p":"2c","s":3,"t":6000,"v":150},
{"p":"2c","s":4,"t":1460,"v":219},{"p":"2c","s":4,"t":1825,"v":210},{"p":"2c","s":4,"t":2190,"v":202},{"p":"2c","s":4,"t":2555,"v":196},{"p":"2c","s":4,"t":2920,"v":192},{"p":"2c","s":4,"t":3285,"v":186},{"p":"2c","s":4,"t":3650,"v":179},{"p":"2c","s":4,"t":4015,"v":172},{"p":"2c","s":4,"t":4380,"v":166},{"p":"2c","s":4,"t":4745,"v":160},{"p":"2c","s":4,"t":5110,"v":154},{"p":"2c","s":4,"t":5475,"v":148},{"p":"2c","s":4,"t":5840,"v":143},{"p":"2c","s":4,"t":6000,"v":140},
{"p":"2c","s":5,"t":1460,"v":219},{"p":"2c","s":5,"t":1825,"v":210},{"p":"2c","s":5,"t":2190,"v":202},{"p":"2c","s":5,"t":2555,"v":196},{"p":"2c","s":5,"t":2920,"v":191},{"p":"2c","s":5,"t":3285,"v":184},{"p":"2c","s":5,"t":3650,"v":176},{"p":"2c","s":5,"t":4015,"v":168},{"p":"2c","s":5,"t":4380,"v":161},{"p":"2c","s":5,"t":4745,"v":154},{"p":"2c","s":5,"t":5110,"v":148},{"p":"2c","s":5,"t":5475,"v":142},{"p":"2c","s":5,"t":5840,"v":137},{"p":"2c","s":5,"t":6000,"v":135},
{"p":"2c","s":6,"t":1460,"v":219},{"p":"2c","s":6,"t":1825,"v":210},{"p":"2c","s":6,"t":2190,"v":202},{"p":"2c","s":6,"t":2555,"v":195},{"p":"2c","s":6,"t":2920,"v":190},{"p":"2c","s":6,"t":3285,"v":181},{"p":"2c","s":6,"t":3650,"v":172},{"p":"2c","s":6,"t":4015,"v":163},{"p":"2c","s":6,"t":4380,"v":155},{"p":"2c","s":6,"t":4745,"v":148},{"p":"2c","s":6,"t":5110,"v":141},{"p":"2c","s":6,"t":5475,"v":135},{"p":"2c","s":6,"t":5840,"v":130},{"p":"2c","s":6,"t":6000,"v":128},
{"p":"2c","s":7,"t":1460,"v":218},{"p":"2c","s":7,"t":1825,"v":209},{"p":"2c","s":7,"t":2190,"v":200},{"p":"2c","s":7,"t":2555,"v":193},{"p":"2c","s":7,"t":2920,"v":187},{"p":"2c","s":7,"t":3285,"v":174},{"p":"2c","s":7,"t":3650,"v":162},{"p":"2c","s":7,"t":4015,"v":151},{"p":"2c","s":7,"t":4380,"v":142},{"p":"2c","s":7,"t":4745,"v":133},{"p":"2c","s":7,"t":5110,"v":126},{"p":"2c","s":7,"t":5475,"v":121},{"p":"2c","s":7,"t":5840,"v":120},{"p":"2c","s":7,"t":6000,"v":120},
{"p":"2c","s":8,"t":1460,"v":218},{"p":"2c","s":8,"t":1825,"v":208},{"p":"2c","s":8,"t":2190,"v":198},{"p":"2c","s":8,"t":2555,"v":189},{"p":"2c","s":8,"t":2920,"v":181},{"p":"2c","s":8,"t":3285,"v":165},{"p":"2c","s":8,"t":3650,"v":148},{"p":"2c","s":8,"t":4015,"v":135},{"p":"2c","s":8,"t":4380,"v":125},{"p":"2c","s":8,"t":4745,"v":120},{"p":"2c","s":8,"t":6000,"v":120},
{"p":"2d","s":1,"t":1460,"v":222},{"p":"2d","s":1,"t":1825,"v":212},{"p":"2d","s":1,"t":2190,"v":205},{"p":"2d","s":1,"t":2555,"v":200},{"p":"2d","s":1,"t":2920,"v":196},{"p":"2d","s":1,"t":3285,"v":193},{"p":"2d","s":1,"t":3650,"v":190},{"p":"2d","s":1,"t":4015,"v":188},{"p":"2d","s":1,"t":4380,"v":186},{"p":"2d","s":1,"t":4745,"v":183},{"p":"2d","s":1,"t":5110,"v":180},{"p":"2d","s":1,"t":5475,"v":176},{"p":"2d","s":1,"t":5840,"v":171},{"p":"2d","s":1,"t":6000,"v":168},
{"p":"2d","s":2,"t":1460,"v":220},{"p":"2d","s":2,"t":1825,"v":210},{"p":"2d","s":2,"t":2190,"v":202},{"p":"2d","s":2,"t":2555,"v":196},{"p":"2d","s":2,"t":2920,"v":191},{"p":"2d","s":2,"t":3285,"v":187},{"p":"2d","s":2,"t":3650,"v":184},{"p":"2d","s":2,"t":4015,"v":180},{"p":"2d","s":2,"t":4380,"v":176},{"p":"2d","s":2,"t":4745,"v":172},{"p":"2d","s":2,"t":5110,"v":168},{"p":"2d","s":2,"t":5475,"v":164},{"p":"2d","s":2,"t":5840,"v":160},{"p":"2d","s":2,"t":6000,"v":158},
{"p":"2d","s":3,"t":1460,"v":219},{"p":"2d","s":3,"t":1825,"v":208},{"p":"2d","s":3,"t":2190,"v":199},{"p":"2d","s":3,"t":2555,"v":192},{"p":"2d","s":3,"t":2920,"v":186},{"p":"2d","s":3,"t":3285,"v":181},{"p":"2d","s":3,"t":3650,"v":176},{"p":"2d","s":3,"t":4015,"v":171},{"p":"2d","s":3,"t":4380,"v":166},{"p":"2d","s":3,"t":4745,"v":161},{"p":"2d","s":3,"t":5110,"v":157},{"p":"2d","s":3,"t":5475,"v":152},{"p":"2d","s":3,"t":5840,"v":148},{"p":"2d","s":3,"t":6000,"v":146},
{"p":"2d","s":4,"t":1460,"v":218},{"p":"2d","s":4,"t":1825,"v":206},{"p":"2d","s":4,"t":2190,"v":196},{"p":"2d","s":4,"t":2555,"v":188},{"p":"2d","s":4,"t":2920,"v":181},{"p":"2d","s":4,"t":3285,"v":174},{"p":"2d","s":4,"t":3650,"v":168},{"p":"2d","s":4,"t":4015,"v":162},{"p":"2d","s":4,"t":4380,"v":157},{"p":"2d","s":4,"t":4745,"v":152},{"p":"2d","s":4,"t":5110,"v":147},{"p":"2d","s":4,"t":5475,"v":142},{"p":"2d","s":4,"t":5840,"v":138},{"p":"2d","s":4,"t":6000,"v":136},
{"p":"2d","s":5,"t":1460,"v":218},{"p":"2d","s":5,"t":1825,"v":205},{"p":"2d","s":5,"t":2190,"v":194},{"p":"2d","s":5,"t":2555,"v":185},{"p":"2d","s":5,"t":2920,"v":177},{"p":"2d","s":5,"t":3285,"v":170},{"p":"2d","s":5,"t":3650,"v":163},{"p":"2d","s":5,"t":4015,"v":157},{"p":"2d","s":5,"t":4380,"v":151},{"p":"2d","s":5,"t":4745,"v":146},{"p":"2d","s":5,"t":5110,"v":140},{"p":"2d","s":5,"t":5475,"v":135},{"p":"2d","s":5,"t":5840,"v":130},{"p":"2d","s":5,"t":6000,"v":129},
{"p":"2d","s":6,"t":1460,"v":217},{"p":"2d","s":6,"t":1825,"v":203},{"p":"2d","s":6,"t":2190,"v":191},{"p":"2d","s":6,"t":2555,"v":181},{"p":"2d","s":6,"t":2920,"v":172},{"p":"2d","s":6,"t":3285,"v":164},{"p":"2d","s":6,"t":3650,"v":157},{"p":"2d","s":6,"t":4015,"v":150},{"p":"2d","s":6,"t":4380,"v":144},{"p":"2d","s":6,"t":4745,"v":138},{"p":"2d","s":6,"t":5110,"v":132},{"p":"2d","s":6,"t":5475,"v":127},{"p":"2d","s":6,"t":5840,"v":123},{"p":"2d","s":6,"t":6000,"v":122},
{"p":"2d","s":7,"t":1460,"v":216},{"p":"2d","s":7,"t":1825,"v":201},{"p":"2d","s":7,"t":2190,"v":188},{"p":"2d","s":7,"t":2555,"v":177},{"p":"2d","s":7,"t":2920,"v":167},{"p":"2d","s":7,"t":3285,"v":158},{"p":"2d","s":7,"t":3650,"v":150},{"p":"2d","s":7,"t":4015,"v":143},{"p":"2d","s":7,"t":4380,"v":136},{"p":"2d","s":7,"t":4745,"v":130},{"p":"2d","s":7,"t":5110,"v":124},{"p":"2d","s":7,"t":5475,"v":120},{"p":"2d","s":7,"t":6000,"v":120},
{"p":"2d","s":8,"t":1460,"v":216},{"p":"2d","s":8,"t":1825,"v":200},{"p":"2d","s":8,"t":2190,"v":186},{"p":"2d","s":8,"t":2555,"v":174},{"p":"2d","s":8,"t":2920,"v":163},{"p":"2d","s":8,"t":3285,"v":153},{"p":"2d","s":8,"t":3650,"v":144},{"p":"2d","s":8,"t":4015,"v":136},{"p":"2d","s":8,"t":4380,"v":129},{"p":"2d","s":8,"t":4745,"v":123},{"p":"2d","s":8,"t":5110,"v":120},{"p":"2d","s":8,"t":6000,"v":120},
{"p":"3a","s":1,"t":0,"v":75},{"p":"3a","s":1,"t":100,"v":80},{"p":"3a","s":1,"t":250,"v":250},{"p":"3a","s":1,"t":330,"v":360},{"p":"3a","s":1,"t":360,"v":365},{"p":"3a","s":1,"t":370,"v":0},
{"p":"3a","s":2,"t":0,"v":75},{"p":"3a","s":2,"t":120,"v":80},{"p":"3a","s":2,"t":280,"v":300},{"p":"3a","s":2,"t":350,"v":330},{"p":"3a","s":2,"t":370,"v":0},
{"p":"3a","s":3,"t":0,"v":75},{"p":"3a","s":3,"t":150,"v":90},{"p":"3a","s":3,"t":300,"v":250},{"p":"3a","s":3,"t":350,"v":290},{"p":"3a","s":3,"t":370,"v":0},
{"p":"3a","s":4,"t":1460,"v":75},{"p":"3a","s":4,"t":1650,"v":250},{"p":"3a","s":4,"t":1825,"v":690},{"p":"3a","s":4,"t":1826,"v":300},{"p":"3a","s":4,"t":2000,"v":550},{"p":"3a","s":4,"t":2190,"v":780},{"p":"3a","s":4,"t":2191,"v":400},{"p":"3a","s":4,"t":2400,"v":650},{"p":"3a","s":4,"t":2555,"v":830},{"p":"3a","s":4,"t":2556,"v":500},{"p":"3a","s":4,"t":2750,"v":700},{"p":"3a","s":4,"t":2920,"v":730},{"p":"3a","s":4,"t":3050,"v":600},{"p":"3a","s":4,"t":3285,"v":290},{"p":"3a","s":4,"t":3450,"v":460},{"p":"3a","s":4,"t":3650,"v":290},{"p":"3a","s":4,"t":3820,"v":450},{"p":"3a","s":4,"t":4015,"v":270},{"p":"3a","s":4,"t":4180,"v":445},{"p":"3a","s":4,"t":4380,"v":260},{"p":"3a","s":4,"t":4560,"v":440},{"p":"3a","s":4,"t":4745,"v":250},{"p":"3a","s":4,"t":4920,"v":400},{"p":"3a","s":4,"t":5110,"v":250},{"p":"3a","s":4,"t":5280,"v":390},{"p":"3a","s":4,"t":5475,"v":240},{"p":"3a","s":4,"t":5650,"v":360},{"p":"3a","s":4,"t":5840,"v":240},{"p":"3a","s":4,"t":6000,"v":330},
{"p":"3a","s":5,"t":1460,"v":75},{"p":"3a","s":5,"t":1600,"v":300},{"p":"3a","s":5,"t":1825,"v":600},{"p":"3a","s":5,"t":2000,"v":700},{"p":"3a","s":5,"t":2190,"v":720},{"p":"3a","s":5,"t":2400,"v":640},{"p":"3a","s":5,"t":2555,"v":600},{"p":"3a","s":5,"t":2750,"v":650},{"p":"3a","s":5,"t":2920,"v":580},{"p":"3a","s":5,"t":3100,"v":400},{"p":"3a","s":5,"t":3285,"v":330},{"p":"3a","s":5,"t":3500,"v":300},{"p":"3a","s":5,"t":3650,"v":260},{"p":"3a","s":5,"t":4015,"v":230},{"p":"3a","s":5,"t":4380,"v":210},{"p":"3a","s":5,"t":5000,"v":190},{"p":"3a","s":5,"t":6000,"v":175},
{"p":"3a","s":6,"t":1460,"v":75},{"p":"3a","s":6,"t":1700,"v":350},{"p":"3a","s":6,"t":1825,"v":480},{"p":"3a","s":6,"t":2190,"v":620},{"p":"3a","s":6,"t":2555,"v":560},{"p":"3a","s":6,"t":2920,"v":480},{"p":"3a","s":6,"t":3285,"v":280},{"p":"3a","s":6,"t":3650,"v":220},{"p":"3a","s":6,"t":4380,"v":200},{"p":"3a","s":6,"t":5110,"v":190},{"p":"3a","s":6,"t":6000,"v":180},
{"p":"3a","s":7,"t":1460,"v":75},{"p":"3a","s":7,"t":1825,"v":380},{"p":"3a","s":7,"t":2190,"v":520},{"p":"3a","s":7,"t":2555,"v":420},{"p":"3a","s":7,"t":2920,"v":350},{"p":"3a","s":7,"t":3285,"v":250},{"p":"3a","s":7,"t":3650,"v":200},{"p":"3a","s":7,"t":4380,"v":195},{"p":"3a","s":7,"t":6000,"v":185},
{"p":"3a","s":8,"t":1460,"v":75},{"p":"3a","s":8,"t":1825,"v":300},{"p":"3a","s":8,"t":2190,"v":420},{"p":"3a","s":8,"t":2555,"v":330},{"p":"3a","s":8,"t":2920,"v":260},{"p":"3a","s":8,"t":3285,"v":200},{"p":"3a","s":8,"t":4015,"v":190},{"p":"3a","s":8,"t":6000,"v":170},
{"p":"3a","s":9,"t":1460,"v":75},{"p":"3a","s":9,"t":1825,"v":250},{"p":"3a","s":9,"t":2190,"v":340},{"p":"3a","s":9,"t":2555,"v":280},{"p":"3a","s":9,"t":2920,"v":220},{"p":"3a","s":9,"t":3285,"v":195},{"p":"3a","s":9,"t":6000,"v":160},
{"p":"3a","s":10,"t":1460,"v":75},{"p":"3a","s":10,"t":1825,"v":200},{"p":"3a","s":10,"t":2190,"v":260},{"p":"3a","s":10,"t":2555,"v":230},{"p":"3a","s":10,"t":2920,"v":200},{"p":"3a","s":10,"t":3650,"v":185},{"p":"3a","s":10,"t":6000,"v":150},
{"p":"3a","s":11,"t":1460,"v":75},{"p":"3a","s":11,"t":1825,"v":170},{"p":"3a","s":11,"t":2190,"v":210},{"p":"3a","s":11,"t":2555,"v":195},{"p":"3a","s":11,"t":2920,"v":190},{"p":"3a","s":11,"t":4015,"v":180},{"p":"3a","s":11,"t":6000,"v":140},
{"p":"3a","s":12,"t":1460,"v":75},{"p":"3a","s":12,"t":1825,"v":140},{"p":"3a","s":12,"t":2190,"v":170},{"p":"3a","s":12,"t":2920,"v":165},{"p":"3a","s":12,"t":4380,"v":150},{"p":"3a","s":12,"t":6000,"v":120},
{"p":"3a","s":13,"t":1460,"v":75},{"p":"3a","s":13,"t":1825,"v":100},{"p":"3a","s":13,"t":2190,"v":110},{"p":"3a","s":13,"t":2920,"v":120},{"p":"3a","s":13,"t":4380,"v":100},{"p":"3a","s":13,"t":6000,"v":90},
{"p":"3a","s":14,"t":1460,"v":75},{"p":"3a","s":14,"t":1825,"v":75},{"p":"3a","s":14,"t":6000,"v":70},
{"p":"3a","s":15,"t":1460,"v":75},{"p":"3a","s":15,"t":1825,"v":500},{"p":"3a","s":15,"t":2000,"v":650},{"p":"3a","s":15,"t":2190,"v":760},{"p":"3a","s":15,"t":2300,"v":600},{"p":"3a","s":15,"t":2555,"v":580},{"p":"3a","s":15,"t":2700,"v":620},{"p":"3a","s":15,"t":2920,"v":710},{"p":"3a","s":15,"t":3000,"v":720},{"p":"3a","s":15,"t":3285,"v":420},{"p":"3a","s":15,"t":3650,"v":350},{"p":"3a","s":15,"t":4015,"v":300},{"p":"3a","s":15,"t":4380,"v":250},{"p":"3a","s":15,"t":5000,"v":210},{"p":"3a","s":15,"t":6000,"v":190},
{"p":"3b","s":1,"t":1460,"v":75},{"p":"3b","s":1,"t":1700,"v":80},{"p":"3b","s":1,"t":1825,"v":140},{"p":"3b","s":1,"t":1950,"v":172},{"p":"3b","s":1,"t":2190,"v":176},{"p":"3b","s":1,"t":2191,"v":150},{"p":"3b","s":1,"t":2350,"v":168},{"p":"3b","s":1,"t":2555,"v":162},{"p":"3b","s":1,"t":2556,"v":135},{"p":"3b","s":1,"t":2700,"v":150},{"p":"3b","s":1,"t":2920,"v":142},{"p":"3b","s":1,"t":2921,"v":112},{"p":"3b","s":1,"t":3100,"v":126},{"p":"3b","s":1,"t":3285,"v":122},{"p":"3b","s":1,"t":3286,"v":98},{"p":"3b","s":1,"t":3450,"v":112},{"p":"3b","s":1,"t":3650,"v":108},{"p":"3b","s":1,"t":3651,"v":88},{"p":"3b","s":1,"t":3800,"v":100},{"p":"3b","s":1,"t":4015,"v":98},{"p":"3b","s":1,"t":4016,"v":80},{"p":"3b","s":1,"t":4200,"v":92},{"p":"3b","s":1,"t":4380,"v":90},{"p":"3b","s":1,"t":4381,"v":75},{"p":"3b","s":1,"t":4550,"v":86},{"p":"3b","s":1,"t":4745,"v":84},{"p":"3b","s":1,"t":4746,"v":70},{"p":"3b","s":1,"t":4900,"v":80},{"p":"3b","s":1,"t":5110,"v":80},{"p":"3b","s":1,"t":5111,"v":68},{"p":"3b","s":1,"t":5300,"v":78},{"p":"3b","s":1,"t":5475,"v":78},{"p":"3b","s":1,"t":5476,"v":66},{"p":"3b","s":1,"t":5650,"v":76},{"p":"3b","s":1,"t":5840,"v":76},{"p":"3b","s":1,"t":5841,"v":65},{"p":"3b","s":1,"t":6000,"v":75},
{"p":"3b","s":2,"t":1460,"v":75},{"p":"3b","s":2,"t":1700,"v":78},{"p":"3b","s":2,"t":1825,"v":130},{"p":"3b","s":2,"t":1950,"v":165},{"p":"3b","s":2,"t":2190,"v":170},{"p":"3b","s":2,"t":2191,"v":140},{"p":"3b","s":2,"t":2350,"v":160},{"p":"3b","s":2,"t":2555,"v":155},{"p":"3b","s":2,"t":2556,"v":128},{"p":"3b","s":2,"t":2700,"v":142},{"p":"3b","s":2,"t":2920,"v":135},{"p":"3b","s":2,"t":2921,"v":105},{"p":"3b","s":2,"t":3100,"v":118},{"p":"3b","s":2,"t":3285,"v":115},{"p":"3b","s":2,"t":3286,"v":92},{"p":"3b","s":2,"t":3450,"v":105},{"p":"3b","s":2,"t":3650,"v":100},{"p":"3b","s":2,"t":3651,"v":82},{"p":"3b","s":2,"t":3800,"v":93},{"p":"3b","s":2,"t":4015,"v":92},{"p":"3b","s":2,"t":4016,"v":75},{"p":"3b","s":2,"t":4200,"v":86},{"p":"3b","s":2,"t":4380,"v":84},{"p":"3b","s":2,"t":4381,"v":70},{"p":"3b","s":2,"t":4550,"v":80},{"p":"3b","s":2,"t":4745,"v":78},{"p":"3b","s":2,"t":4746,"v":66},{"p":"3b","s":2,"t":4900,"v":75},{"p":"3b","s":2,"t":5110,"v":75},{"p":"3b","s":2,"t":5111,"v":64},{"p":"3b","s":2,"t":5300,"v":73},{"p":"3b","s":2,"t":5475,"v":73},{"p":"3b","s":2,"t":5476,"v":62},{"p":"3b","s":2,"t":5650,"v":71},{"p":"3b","s":2,"t":5840,"v":71},{"p":"3b","s":2,"t":5841,"v":61},{"p":"3b","s":2,"t":6000,"v":70},
{"p":"3b","s":3,"t":1460,"v":75},{"p":"3b","s":3,"t":1700,"v":82},{"p":"3b","s":3,"t":1825,"v":150},{"p":"3b","s":3,"t":1950,"v":178},{"p":"3b","s":3,"t":2190,"v":180},{"p":"3b","s":3,"t":2191,"v":155},{"p":"3b","s":3,"t":2350,"v":172},{"p":"3b","s":3,"t":2555,"v":166},{"p":"3b","s":3,"t":2556,"v":140},{"p":"3b","s":3,"t":2700,"v":154},{"p":"3b","s":3,"t":2920,"v":147},{"p":"3b","s":3,"t":2921,"v":118},{"p":"3b","s":3,"t":3100,"v":132},{"p":"3b","s":3,"t":3285,"v":128},{"p":"3b","s":3,"t":3286,"v":104},{"p":"3b","s":3,"t":3450,"v":118},{"p":"3b","s":3,"t":3650,"v":114},{"p":"3b","s":3,"t":3651,"v":94},{"p":"3b","s":3,"t":3800,"v":106},{"p":"3b","s":3,"t":4015,"v":104},{"p":"3b","s":3,"t":4016,"v":86},{"p":"3b","s":3,"t":4200,"v":97},{"p":"3b","s":3,"t":4380,"v":95},{"p":"3b","s":3,"t":4381,"v":80},{"p":"3b","s":3,"t":4550,"v":91},{"p":"3b","s":3,"t":4745,"v":89},{"p":"3b","s":3,"t":4746,"v":75},{"p":"3b","s":3,"t":4900,"v":85},{"p":"3b","s":3,"t":5110,"v":85},{"p":"3b","s":3,"t":5111,"v":72},{"p":"3b","s":3,"t":5300,"v":82},{"p":"3b","s":3,"t":5475,"v":82},{"p":"3b","s":3,"t":5476,"v":70},{"p":"3b","s":3,"t":5650,"v":80},{"p":"3b","s":3,"t":5840,"v":80},{"p":"3b","s":3,"t":5841,"v":69},{"p":"3b","s":3,"t":6000,"v":78},
{"p":"3c","s":1,"t":1460,"v":75},{"p":"3c","s":1,"t":1700,"v":130},{"p":"3c","s":1,"t":1825,"v":325},{"p":"3c","s":1,"t":1880,"v":180},{"p":"3c","s":1,"t":2190,"v":290},{"p":"3c","s":1,"t":2230,"v":185},{"p":"3c","s":1,"t":2555,"v":300},{"p":"3c","s":1,"t":2600,"v":195},{"p":"3c","s":1,"t":2920,"v":255},{"p":"3c","s":1,"t":2960,"v":190},{"p":"3c","s":1,"t":3285,"v":195},{"p":"3c","s":1,"t":3450,"v":240},{"p":"3c","s":1,"t":3650,"v":180},{"p":"3c","s":1,"t":4015,"v":195},{"p":"3c","s":1,"t":4380,"v":190},{"p":"3c","s":1,"t":4745,"v":190},{"p":"3c","s":1,"t":5110,"v":185},{"p":"3c","s":1,"t":5475,"v":185},{"p":"3c","s":1,"t":5840,"v":178},{"p":"3c","s":1,"t":6000,"v":180},
{"p":"3c","s":2,"t":1460,"v":75},{"p":"3c","s":2,"t":1825,"v":180},{"p":"3c","s":2,"t":2190,"v":200},{"p":"3c","s":2,"t":2555,"v":195},{"p":"3c","s":2,"t":2920,"v":190},{"p":"3c","s":2,"t":3285,"v":185},{"p":"3c","s":2,"t":3650,"v":180},{"p":"3c","s":2,"t":4015,"v":178},{"p":"3c","s":2,"t":4380,"v":175},{"p":"3c","s":2,"t":4745,"v":170},{"p":"3c","s":2,"t":5110,"v":168},{"p":"3c","s":2,"t":5475,"v":165},{"p":"3c","s":2,"t":5840,"v":160},{"p":"3c","s":2,"t":6000,"v":165},
{"p":"3c","s":3,"t":1460,"v":75},{"p":"3c","s":3,"t":1825,"v":150},{"p":"3c","s":3,"t":2190,"v":180},{"p":"3c","s":3,"t":2555,"v":175},{"p":"3c","s":3,"t":2920,"v":170},{"p":"3c","s":3,"t":3285,"v":165},{"p":"3c","s":3,"t":3650,"v":160},{"p":"3c","s":3,"t":4015,"v":155},{"p":"3c","s":3,"t":4380,"v":150},{"p":"3c","s":3,"t":4745,"v":148},{"p":"3c","s":3,"t":5110,"v":145},{"p":"3c","s":3,"t":5475,"v":140},{"p":"3c","s":3,"t":5840,"v":138},{"p":"3c","s":3,"t":6000,"v":140},
{"p":"3c","s":4,"t":1460,"v":75},{"p":"3c","s":4,"t":1825,"v":120},{"p":"3c","s":4,"t":2190,"v":160},{"p":"3c","s":4,"t":2555,"v":150},{"p":"3c","s":4,"t":2920,"v":150},{"p":"3c","s":4,"t":3285,"v":140},{"p":"3c","s":4,"t":3650,"v":135},{"p":"3c","s":4,"t":4015,"v":130},{"p":"3c","s":4,"t":4380,"v":128},{"p":"3c","s":4,"t":4745,"v":125},{"p":"3c","s":4,"t":5110,"v":122},{"p":"3c","s":4,"t":5475,"v":120},{"p":"3c","s":4,"t":5840,"v":118},{"p":"3c","s":4,"t":6000,"v":120},
{"p":"3c","s":5,"t":1460,"v":75},{"p":"3c","s":5,"t":1825,"v":100},{"p":"3c","s":5,"t":2190,"v":130},{"p":"3c","s":5,"t":2555,"v":130},{"p":"3c","s":5,"t":2920,"v":125},{"p":"3c","s":5,"t":3285,"v":115},{"p":"3c","s":5,"t":3650,"v":110},{"p":"3c","s":5,"t":4015,"v":105},{"p":"3c","s":5,"t":4380,"v":100},{"p":"3c","s":5,"t":4745,"v":98},{"p":"3c","s":5,"t":5110,"v":96},{"p":"3c","s":5,"t":5475,"v":94},{"p":"3c","s":5,"t":5840,"v":92},{"p":"3c","s":5,"t":6000,"v":95},
{"p":"3c","s":6,"t":1460,"v":75},{"p":"3c","s":6,"t":1825,"v":85},{"p":"3c","s":6,"t":2190,"v":100},{"p":"3c","s":6,"t":2920,"v":95},{"p":"3c","s":6,"t":4015,"v":85},{"p":"3c","s":6,"t":5110,"v":80},{"p":"3c","s":6,"t":6000,"v":78},
{"p":"3c","s":7,"t":1460,"v":75},{"p":"3c","s":7,"t":3000,"v":65},{"p":"3c","s":7,"t":6000,"v":62},
{"p":"3c","s":8,"t":1460,"v":75},{"p":"3c","s":8,"t":1825,"v":260},{"p":"3c","s":8,"t":1900,"v":180},{"p":"3c","s":8,"t":2190,"v":200},{"p":"3c","s":8,"t":2555,"v":210},{"p":"3c","s":8,"t":2920,"v":200},{"p":"3c","s":8,"t":3285,"v":200},{"p":"3c","s":8,"t":3650,"v":195},{"p":"3c","s":8,"t":4015,"v":200},{"p":"3c","s":8,"t":4380,"v":195},{"p":"3c","s":8,"t":4745,"v":195},{"p":"3c","s":8,"t":5110,"v":190},{"p":"3c","s":8,"t":5475,"v":190},{"p":"3c","s":8,"t":5840,"v":185},{"p":"3c","s":8,"t":6000,"v":175},
{"p":"3d","s":1,"t":1460,"v":75},{"p":"3d","s":1,"t":1700,"v":150},{"p":"3d","s":1,"t":1825,"v":295},{"p":"3d","s":1,"t":1870,"v":200},{"p":"3d","s":1,"t":2190,"v":300},{"p":"3d","s":1,"t":2240,"v":210},{"p":"3d","s":1,"t":2555,"v":295},{"p":"3d","s":1,"t":2600,"v":210},{"p":"3d","s":1,"t":2920,"v":270},{"p":"3d","s":1,"t":2960,"v":200},{"p":"3d","s":1,"t":3285,"v":205},{"p":"3d","s":1,"t":3650,"v":195},{"p":"3d","s":1,"t":4015,"v":200},{"p":"3d","s":1,"t":4380,"v":195},{"p":"3d","s":1,"t":4745,"v":210},{"p":"3d","s":1,"t":4800,"v":180},{"p":"3d","s":1,"t":5110,"v":195},{"p":"3d","s":1,"t":5475,"v":200},{"p":"3d","s":1,"t":5840,"v":185},{"p":"3d","s":1,"t":6000,"v":185},
{"p":"3d","s":2,"t":1460,"v":75},{"p":"3d","s":2,"t":1825,"v":220},{"p":"3d","s":2,"t":2190,"v":230},{"p":"3d","s":2,"t":2555,"v":225},{"p":"3d","s":2,"t":2920,"v":215},{"p":"3d","s":2,"t":3285,"v":205},{"p":"3d","s":2,"t":3650,"v":195},{"p":"3d","s":2,"t":4015,"v":190},{"p":"3d","s":2,"t":4380,"v":185},{"p":"3d","s":2,"t":4745,"v":180},{"p":"3d","s":2,"t":5110,"v":175},{"p":"3d","s":2,"t":5475,"v":170},{"p":"3d","s":2,"t":5840,"v":165},{"p":"3d","s":2,"t":6000,"v":170},
{"p":"3d","s":3,"t":1460,"v":75},{"p":"3d","s":3,"t":1825,"v":190},{"p":"3d","s":3,"t":2190,"v":210},{"p":"3d","s":3,"t":2555,"v":205},{"p":"3d","s":3,"t":2920,"v":200},{"p":"3d","s":3,"t":3285,"v":190},{"p":"3d","s":3,"t":3650,"v":180},{"p":"3d","s":3,"t":4015,"v":172},{"p":"3d","s":3,"t":4380,"v":165},{"p":"3d","s":3,"t":4745,"v":160},{"p":"3d","s":3,"t":5110,"v":155},{"p":"3d","s":3,"t":5475,"v":150},{"p":"3d","s":3,"t":5840,"v":145},{"p":"3d","s":3,"t":6000,"v":150},
{"p":"3d","s":4,"t":1460,"v":75},{"p":"3d","s":4,"t":1825,"v":160},{"p":"3d","s":4,"t":2190,"v":190},{"p":"3d","s":4,"t":2555,"v":185},{"p":"3d","s":4,"t":2920,"v":180},{"p":"3d","s":4,"t":3285,"v":170},{"p":"3d","s":4,"t":3650,"v":160},{"p":"3d","s":4,"t":4015,"v":152},{"p":"3d","s":4,"t":4380,"v":145},{"p":"3d","s":4,"t":4745,"v":140},{"p":"3d","s":4,"t":5110,"v":135},{"p":"3d","s":4,"t":5475,"v":130},{"p":"3d","s":4,"t":5840,"v":126},{"p":"3d","s":4,"t":6000,"v":130},
{"p":"3d","s":5,"t":1460,"v":75},{"p":"3d","s":5,"t":1825,"v":130},{"p":"3d","s":5,"t":2190,"v":165},{"p":"3d","s":5,"t":2555,"v":160},{"p":"3d","s":5,"t":2920,"v":155},{"p":"3d","s":5,"t":3285,"v":145},{"p":"3d","s":5,"t":3650,"v":135},{"p":"3d","s":5,"t":4015,"v":128},{"p":"3d","s":5,"t":4380,"v":122},{"p":"3d","s":5,"t":4745,"v":117},{"p":"3d","s":5,"t":5110,"v":112},{"p":"3d","s":5,"t":5475,"v":108},{"p":"3d","s":5,"t":5840,"v":105},{"p":"3d","s":5,"t":6000,"v":108},
{"p":"3d","s":6,"t":1460,"v":75},{"p":"3d","s":6,"t":1825,"v":110},{"p":"3d","s":6,"t":2190,"v":140},{"p":"3d","s":6,"t":2555,"v":135},{"p":"3d","s":6,"t":2920,"v":130},{"p":"3d","s":6,"t":3285,"v":120},{"p":"3d","s":6,"t":3650,"v":112},{"p":"3d","s":6,"t":4015,"v":105},{"p":"3d","s":6,"t":4380,"v":100},{"p":"3d","s":6,"t":4745,"v":96},{"p":"3d","s":6,"t":5110,"v":92},{"p":"3d","s":6,"t":5475,"v":90},{"p":"3d","s":6,"t":5840,"v":88},{"p":"3d","s":6,"t":6000,"v":90},
{"p":"3d","s":7,"t":1460,"v":75},{"p":"3d","s":7,"t":1825,"v":250},{"p":"3d","s":7,"t":1900,"v":190},{"p":"3d","s":7,"t":2190,"v":240},{"p":"3d","s":7,"t":2555,"v":230},{"p":"3d","s":7,"t":2920,"v":220},{"p":"3d","s":7,"t":3285,"v":195},{"p":"3d","s":7,"t":3650,"v":185},{"p":"3d","s":7,"t":4015,"v":180},{"p":"3d","s":7,"t":4380,"v":175},{"p":"3d","s":7,"t":4745,"v":170},{"p":"3d","s":7,"t":5110,"v":165},{"p":"3d","s":7,"t":5475,"v":160},{"p":"3d","s":7,"t":5840,"v":160},{"p":"3d","s":7,"t":6000,"v":160},
{"p":"3d","s":8,"t":0,"v":75},{"p":"3d","s":8,"t":250,"v":85},{"p":"3d","s":8,"t":350,"v":105},{"p":"3d","s":8,"t":370,"v":0}
]},
"columns":4,"bounds":"flush","spacing":{"row":33,"column":48},
"concat":[
{"width":202,"height":183,"title":{"text":["P4","Water Cut"],"orient":"left","anchor":"middle","frame":"group","lineHeight":33,"offset":14},"resolve":{"axis":{"x":"independent","y":"independent"}},
"layer":[
{"data":{"name":"ens"},"transform":[{"filter":"datum.p=='1a'"}],"mark":{"type":"line","stroke":"#444","strokeWidth":0.8,"opacity":0.6},"encoding":{"x":{"field":"t","type":"quantitative","scale":{"domain":[0,6000],"nice":false},"axis":null},"y":{"field":"v","type":"quantitative","scale":{"domain":[0,1],"nice":false},"axis":null},"detail":{"field":"s"}}},
{"data":{"name":"truth"},"transform":[{"filter":"datum.r==1"}],"mark":{"type":"line","stroke":"#cc0000","strokeWidth":2.4},"encoding":{"x":{"field":"t","type":"quantitative","axis":{"values":[0,1000,2000,3000,4000,5000,6000],"format":"d","title":"time","labelOverlap":false}},"y":{"field":"v","type":"quantitative","axis":{"values":[0,0.2,0.4,0.6,0.8,1],"format":"~g","title":"WWCT-P2","labelOverlap":false}}}},
{"data":{"name":"split"},"mark":{"type":"rule","stroke":"#000","strokeWidth":1.5},"encoding":{"x":{"field":"t","type":"quantitative","axis":{"orient":"top","title":"Initial Models","labels":false,"ticks":false,"domain":false,"titleFontSize":30,"titleFontWeight":"normal","titleColor":"#000","titlePadding":18}}}}]},
{"width":202,"height":183,"resolve":{"axis":{"x":"independent","y":"independent"}},
"layer":[
{"data":{"name":"ens"},"transform":[{"filter":"datum.p=='1b'"}],"mark":{"type":"line","stroke":"#444","strokeWidth":0.8,"opacity":0.6},"encoding":{"x":{"field":"t","type":"quantitative","scale":{"domain":[0,6000],"nice":false},"axis":null},"y":{"field":"v","type":"quantitative","scale":{"domain":[0,1],"nice":false},"axis":null},"detail":{"field":"s"}}},
{"data":{"name":"truth"},"transform":[{"filter":"datum.r==1"}],"mark":{"type":"line","stroke":"#cc0000","strokeWidth":2.4},"encoding":{"x":{"field":"t","type":"quantitative","axis":{"values":[0,1000,2000,3000,4000,5000,6000],"format":"d","title":"time","labelOverlap":false}},"y":{"field":"v","type":"quantitative","axis":{"values":[0,0.1,0.2,0.3,0.4,0.5,0.6,0.7,0.8,0.9,1],"format":"~g","title":"WWCT-P2","labelOverlap":false}}}},
{"data":{"name":"split"},"mark":{"type":"rule","stroke":"#000","strokeWidth":1.5},"encoding":{"x":{"field":"t","type":"quantitative","axis":{"orient":"top","title":"Plain EnKF","labels":false,"ticks":false,"domain":false,"titleFontSize":30,"titleFontWeight":"normal","titleColor":"#000","titlePadding":18}}}}]},
{"width":202,"height":183,"resolve":{"axis":{"x":"independent","y":"independent"}},
"layer":[
{"data":{"name":"ens"},"transform":[{"filter":"datum.p=='1c'"}],"mark":{"type":"line","stroke":"#444","strokeWidth":0.8,"opacity":0.6},"encoding":{"x":{"field":"t","type":"quantitative","scale":{"domain":[0,6000],"nice":false},"axis":null},"y":{"field":"v","type":"quantitative","scale":{"domain":[0,1],"nice":false},"axis":null},"detail":{"field":"s"}}},
{"data":{"name":"truth"},"transform":[{"filter":"datum.r==1"}],"mark":{"type":"line","stroke":"#cc0000","strokeWidth":2.4},"encoding":{"x":{"field":"t","type":"quantitative","axis":{"values":[0,1000,2000,3000,4000,5000,6000],"format":"d","title":"time","labelOverlap":false}},"y":{"field":"v","type":"quantitative","axis":{"values":[0,0.1,0.2,0.3,0.4,0.5,0.6,0.7,0.8,0.9,1],"format":"~g","title":"WWCT-P2","labelOverlap":false}}}},
{"data":{"name":"split"},"mark":{"type":"rule","stroke":"#000","strokeWidth":1.5},"encoding":{"x":{"field":"t","type":"quantitative","axis":{"orient":"top","title":"EnKF-PST","labels":false,"ticks":false,"domain":false,"titleFontSize":30,"titleFontWeight":"normal","titleColor":"#000","titlePadding":18}}}}]},
{"width":202,"height":183,"resolve":{"axis":{"x":"independent","y":"independent"}},
"layer":[
{"data":{"name":"ens"},"transform":[{"filter":"datum.p=='1d'"}],"mark":{"type":"line","stroke":"#444","strokeWidth":0.8,"opacity":0.6},"encoding":{"x":{"field":"t","type":"quantitative","scale":{"domain":[0,6000],"nice":false},"axis":null},"y":{"field":"v","type":"quantitative","scale":{"domain":[0,1],"nice":false},"axis":null},"detail":{"field":"s"}}},
{"data":{"name":"truth"},"transform":[{"filter":"datum.r==1"}],"mark":{"type":"line","stroke":"#cc0000","strokeWidth":2.4},"encoding":{"x":{"field":"t","type":"quantitative","axis":{"values":[0,1000,2000,3000,4000,5000,6000],"format":"d","title":"time","labelOverlap":false}},"y":{"field":"v","type":"quantitative","axis":{"values":[0,0.1,0.2,0.3,0.4,0.5,0.6,0.7,0.8,0.9,1],"format":"~g","title":"WWCT-P2","labelOverlap":false}}}},
{"data":{"name":"split"},"mark":{"type":"rule","stroke":"#000","strokeWidth":1.5},"encoding":{"x":{"field":"t","type":"quantitative","axis":{"orient":"top","title":"EnKF-DT","labels":false,"ticks":false,"domain":false,"titleFontSize":30,"titleFontWeight":"normal","titleColor":"#000","titlePadding":18}}}}]},
{"width":202,"height":183,"title":{"text":["P12","Bottomhole","Pressure"],"orient":"left","anchor":"middle","frame":"group","lineHeight":33,"offset":14,"dx":37},"resolve":{"axis":{"x":"independent","y":"independent"}},
"layer":[
{"data":{"name":"ens"},"transform":[{"filter":"datum.p=='2a'"}],"mark":{"type":"line","stroke":"#444","strokeWidth":0.8,"opacity":0.6},"encoding":{"x":{"field":"t","type":"quantitative","scale":{"domain":[0,6000],"nice":false},"axis":null},"y":{"field":"v","type":"quantitative","scale":{"domain":[100,260],"nice":false},"axis":null},"detail":{"field":"s"}}},
{"data":{"name":"truth"},"transform":[{"filter":"datum.r==2"}],"mark":{"type":"line","stroke":"#cc0000","strokeWidth":2.4},"encoding":{"x":{"field":"t","type":"quantitative","axis":{"values":[0,1000,2000,3000,4000,5000,6000],"format":"d","title":"time","labelOverlap":false}},"y":{"field":"v","type":"quantitative","axis":{"values":[100,120,140,160,180,200,220,240,260],"title":"WBHP-P5","labelOverlap":false}}}},
{"data":{"name":"split"},"mark":{"type":"rule","stroke":"#000","strokeWidth":1.5},"encoding":{"x":{"field":"t","type":"quantitative","axis":null}}}]},
{"width":202,"height":183,"resolve":{"axis":{"x":"independent","y":"independent"}},
"layer":[
{"data":{"name":"ens"},"transform":[{"filter":"datum.p=='2b'"}],"mark":{"type":"line","stroke":"#444","strokeWidth":1.6,"opacity":0.7},"encoding":{"x":{"field":"t","type":"quantitative","scale":{"domain":[0,6000],"nice":false},"axis":null},"y":{"field":"v","type":"quantitative","scale":{"domain":[100,260],"nice":false},"axis":null},"detail":{"field":"s"}}},
{"data":{"name":"truth"},"transform":[{"filter":"datum.r==2"}],"mark":{"type":"line","stroke":"#cc0000","strokeWidth":2.4},"encoding":{"x":{"field":"t","type":"quantitative","axis":{"values":[0,1000,2000,3000,4000,5000,6000],"format":"d","title":"time","labelOverlap":false}},"y":{"field":"v","type":"quantitative","axis":{"values":[100,120,140,160,180,200,220,240,260],"title":"WBHP-P5","labelOverlap":false}}}},
{"data":{"name":"split"},"mark":{"type":"rule","stroke":"#000","strokeWidth":1.5},"encoding":{"x":{"field":"t","type":"quantitative","axis":null}}}]},
{"width":202,"height":183,"resolve":{"axis":{"x":"independent","y":"independent"}},
"layer":[
{"data":{"name":"ens"},"transform":[{"filter":"datum.p=='2c'"}],"mark":{"type":"line","stroke":"#444","strokeWidth":0.8,"opacity":0.6},"encoding":{"x":{"field":"t","type":"quantitative","scale":{"domain":[0,6000],"nice":false},"axis":null},"y":{"field":"v","type":"quantitative","scale":{"domain":[100,260],"nice":false},"axis":null},"detail":{"field":"s"}}},
{"data":{"name":"truth"},"transform":[{"filter":"datum.r==2"}],"mark":{"type":"line","stroke":"#cc0000","strokeWidth":2.4},"encoding":{"x":{"field":"t","type":"quantitative","axis":{"values":[0,1000,2000,3000,4000,5000,6000],"format":"d","title":"time","labelOverlap":false}},"y":{"field":"v","type":"quantitative","axis":{"values":[100,120,140,160,180,200,220,240,260],"title":"WBHP-P5","labelOverlap":false}}}},
{"data":{"name":"split"},"mark":{"type":"rule","stroke":"#000","strokeWidth":1.5},"encoding":{"x":{"field":"t","type":"quantitative","axis":null}}}]},
{"width":202,"height":183,"resolve":{"axis":{"x":"independent","y":"independent"}},
"layer":[
{"data":{"name":"ens"},"transform":[{"filter":"datum.p=='2d'"}],"mark":{"type":"line","stroke":"#444","strokeWidth":0.8,"opacity":0.6},"encoding":{"x":{"field":"t","type":"quantitative","scale":{"domain":[0,6000],"nice":false},"axis":null},"y":{"field":"v","type":"quantitative","scale":{"domain":[100,260],"nice":false},"axis":null},"detail":{"field":"s"}}},
{"data":{"name":"truth"},"transform":[{"filter":"datum.r==2"}],"mark":{"type":"line","stroke":"#cc0000","strokeWidth":2.4},"encoding":{"x":{"field":"t","type":"quantitative","axis":{"values":[0,1000,2000,3000,4000,5000,6000],"format":"d","title":"time","labelOverlap":false}},"y":{"field":"v","type":"quantitative","axis":{"values":[100,120,140,160,180,200,220,240,260],"title":"WBHP-P5","labelOverlap":false}}}},
{"data":{"name":"split"},"mark":{"type":"rule","stroke":"#000","strokeWidth":1.5},"encoding":{"x":{"field":"t","type":"quantitative","axis":null}}}]},
{"width":202,"height":183,"title":{"text":["P1","GOR"],"orient":"left","anchor":"middle","frame":"group","lineHeight":33,"offset":14},"resolve":{"axis":{"x":"independent","y":"independent"}},
"layer":[
{"data":{"name":"ens"},"transform":[{"filter":"datum.p=='3a'"}],"mark":{"type":"line","stroke":"#444","strokeWidth":0.8,"opacity":0.6},"encoding":{"x":{"field":"t","type":"quantitative","scale":{"domain":[0,6000],"nice":false},"axis":null},"y":{"field":"v","type":"quantitative","scale":{"domain":[0,850],"nice":false},"axis":null},"detail":{"field":"s"}}},
{"data":{"name":"truth"},"transform":[{"filter":"datum.r==3"}],"mark":{"type":"line","stroke":"#cc0000","strokeWidth":2.4},"encoding":{"x":{"field":"t","type":"quantitative","axis":{"values":[0,1000,2000,3000,4000,5000,6000],"format":"d","title":"time","labelOverlap":false}},"y":{"field":"v","type":"quantitative","axis":{"values":[0,200,400,600,800],"title":"WGOR-P1","labelOverlap":false}}}},
{"data":{"name":"split"},"mark":{"type":"rule","stroke":"#000","strokeWidth":1.5},"encoding":{"x":{"field":"t","type":"quantitative","axis":null}}}]},
{"width":202,"height":183,"resolve":{"axis":{"x":"independent","y":"independent"}},
"layer":[
{"data":{"name":"ens"},"transform":[{"filter":"datum.p=='3b'"}],"mark":{"type":"line","stroke":"#444","strokeWidth":1.6,"opacity":0.7},"encoding":{"x":{"field":"t","type":"quantitative","scale":{"domain":[0,6000],"nice":false},"axis":null},"y":{"field":"v","type":"quantitative","scale":{"domain":[0,850],"nice":false},"axis":null},"detail":{"field":"s"}}},
{"data":{"name":"truth"},"transform":[{"filter":"datum.r==3"}],"mark":{"type":"line","stroke":"#cc0000","strokeWidth":2.4},"encoding":{"x":{"field":"t","type":"quantitative","axis":{"values":[0,1000,2000,3000,4000,5000,6000],"format":"d","title":"time","labelOverlap":false}},"y":{"field":"v","type":"quantitative","axis":{"values":[0,200,400,600,800],"title":"WGOR-P1","labelOverlap":false}}}},
{"data":{"name":"split"},"mark":{"type":"rule","stroke":"#000","strokeWidth":1.5},"encoding":{"x":{"field":"t","type":"quantitative","axis":null}}}]},
{"width":202,"height":183,"resolve":{"axis":{"x":"independent","y":"independent"}},
"layer":[
{"data":{"name":"ens"},"transform":[{"filter":"datum.p=='3c'"}],"mark":{"type":"line","stroke":"#444","strokeWidth":0.8,"opacity":0.6},"encoding":{"x":{"field":"t","type":"quantitative","scale":{"domain":[0,6000],"nice":false},"axis":null},"y":{"field":"v","type":"quantitative","scale":{"domain":[0,850],"nice":false},"axis":null},"detail":{"field":"s"}}},
{"data":{"name":"truth"},"transform":[{"filter":"datum.r==3"}],"mark":{"type":"line","stroke":"#cc0000","strokeWidth":2.4},"encoding":{"x":{"field":"t","type":"quantitative","axis":{"values":[0,1000,2000,3000,4000,5000,6000],"format":"d","title":"time","labelOverlap":false}},"y":{"field":"v","type":"quantitative","axis":{"values":[0,200,400,600,800],"title":"WGOR-P1","labelOverlap":false}}}},
{"data":{"name":"split"},"mark":{"type":"rule","stroke":"#000","strokeWidth":1.5},"encoding":{"x":{"field":"t","type":"quantitative","axis":null}}}]},
{"width":202,"height":183,"resolve":{"axis":{"x":"independent","y":"independent"}},
"layer":[
{"data":{"name":"ens"},"transform":[{"filter":"datum.p=='3d'"}],"mark":{"type":"line","stroke":"#444","strokeWidth":0.8,"opacity":0.6},"encoding":{"x":{"field":"t","type":"quantitative","scale":{"domain":[0,6000],"nice":false},"axis":null},"y":{"field":"v","type":"quantitative","scale":{"domain":[0,850],"nice":false},"axis":null},"detail":{"field":"s"}}},
{"data":{"name":"truth"},"transform":[{"filter":"datum.r==3"}],"mark":{"type":"line","stroke":"#cc0000","strokeWidth":2.4},"encoding":{"x":{"field":"t","type":"quantitative","axis":{"values":[0,1000,2000,3000,4000,5000,6000],"format":"d","title":"time","labelOverlap":false}},"y":{"field":"v","type":"quantitative","axis":{"values":[0,200,400,600,800],"title":"WGOR-P1","labelOverlap":false}}}},
{"data":{"name":"split"},"mark":{"type":"rule","stroke":"#000","strokeWidth":1.5},"encoding":{"x":{"field":"t","type":"quantitative","axis":null}}}]}
]
}
